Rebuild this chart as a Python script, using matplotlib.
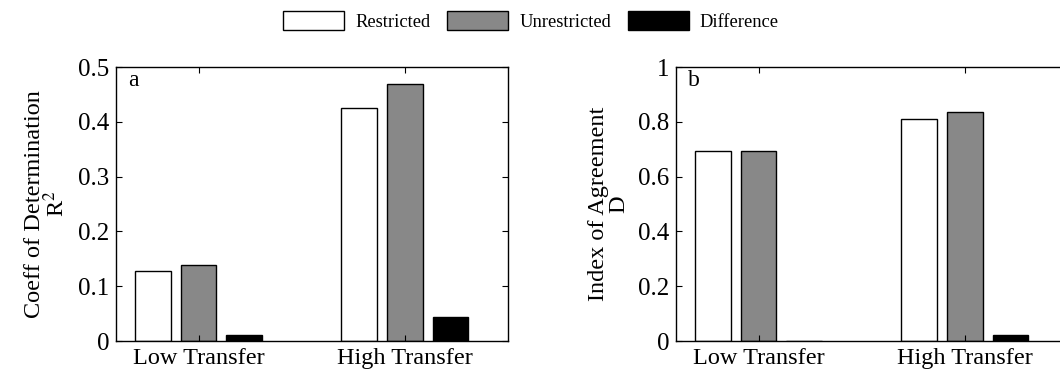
import matplotlib

matplotlib.use("Agg")
import matplotlib.pyplot as plt
import numpy as np
from matplotlib.patches import Patch

plt.rcParams["font.family"] = ["Liberation Serif", "DejaVu Serif"]
plt.rcParams["mathtext.fontset"] = "stix"

groups = ["Low Transfer", "High Transfer"]
series = ["Restricted", "Unrestricted", "Difference"]
colors = ["white", "#888888", "black"]

r2_restricted = [0.128, 0.426]
r2_unrestricted = [0.138, 0.469]
r2_difference = [0.011, 0.044]

d_restricted = [0.694, 0.811]
d_unrestricted = [0.695, 0.836]
d_difference = [0.001, 0.023]

r2_ticks = [0, 0.1, 0.2, 0.3, 0.4, 0.5]
r2_ticklabels = ["0", "0.1", "0.2", "0.3", "0.4", "0.5"]
d_ticks = [0, 0.2, 0.4, 0.6, 0.8, 1.0]
d_ticklabels = ["0", "0.2", "0.4", "0.6", "0.8", "1"]

W, H = 1060, 376
fig = plt.figure(figsize=(W / 100, H / 100), dpi=100, facecolor="white")

ax_a = fig.add_axes([116 / W, 35 / H, 392 / W, 274 / H])
ax_b = fig.add_axes([676 / W, 35 / H, 392 / W, 274 / H])

x = np.arange(1, len(groups) + 1)
step = 0.2215
width = 0.173


def draw_panel(ax, values, ticks, ticklabels, ylabel, letter):
    for i, (vals, col) in enumerate(zip(values, colors)):
        ax.bar(x + (i - 1) * step, vals, width=width, color=col,
               edgecolor="black", linewidth=1.0)
    ax.set_xlim(0.6, 2.5)
    ax.set_ylim(ticks[0], ticks[-1])
    ax.set_xticks(x)
    ax.set_xticklabels(groups, fontsize=17.5)
    ax.set_yticks(ticks)
    ax.set_yticklabels(ticklabels, fontsize=18)
    ax.tick_params(direction="in", top=True, right=True, length=4,
                   width=0.8, pad=5)
    ax.tick_params(axis="x", pad=5)
    for sp in ax.spines.values():
        sp.set_linewidth(1.0)
    ax.set_ylabel(ylabel, fontsize=17.5, linespacing=0.95, labelpad=6)
    ax.text(0.03, 0.99, letter, transform=ax.transAxes, fontsize=17,
            va="top", ha="left")


draw_panel(ax_a, [r2_restricted, r2_unrestricted, r2_difference],
           r2_ticks, r2_ticklabels, "Coeff of Determination\nR$^2$", "a")
draw_panel(ax_b, [d_restricted, d_unrestricted, d_difference],
           d_ticks, d_ticklabels, "Index of Agreement\nD", "b")

handles = [Patch(facecolor=c, edgecolor="black", linewidth=1.0) for c in colors]
fig.legend(handles, series, loc="center", bbox_to_anchor=(531 / W, 1 - 21 / H),
           ncol=3, frameon=False, fontsize=13.3, handlelength=3.3,
           handleheight=1.2, handletextpad=0.6, columnspacing=0.9)

fig.savefig("out.png", dpi=100, facecolor="white")
